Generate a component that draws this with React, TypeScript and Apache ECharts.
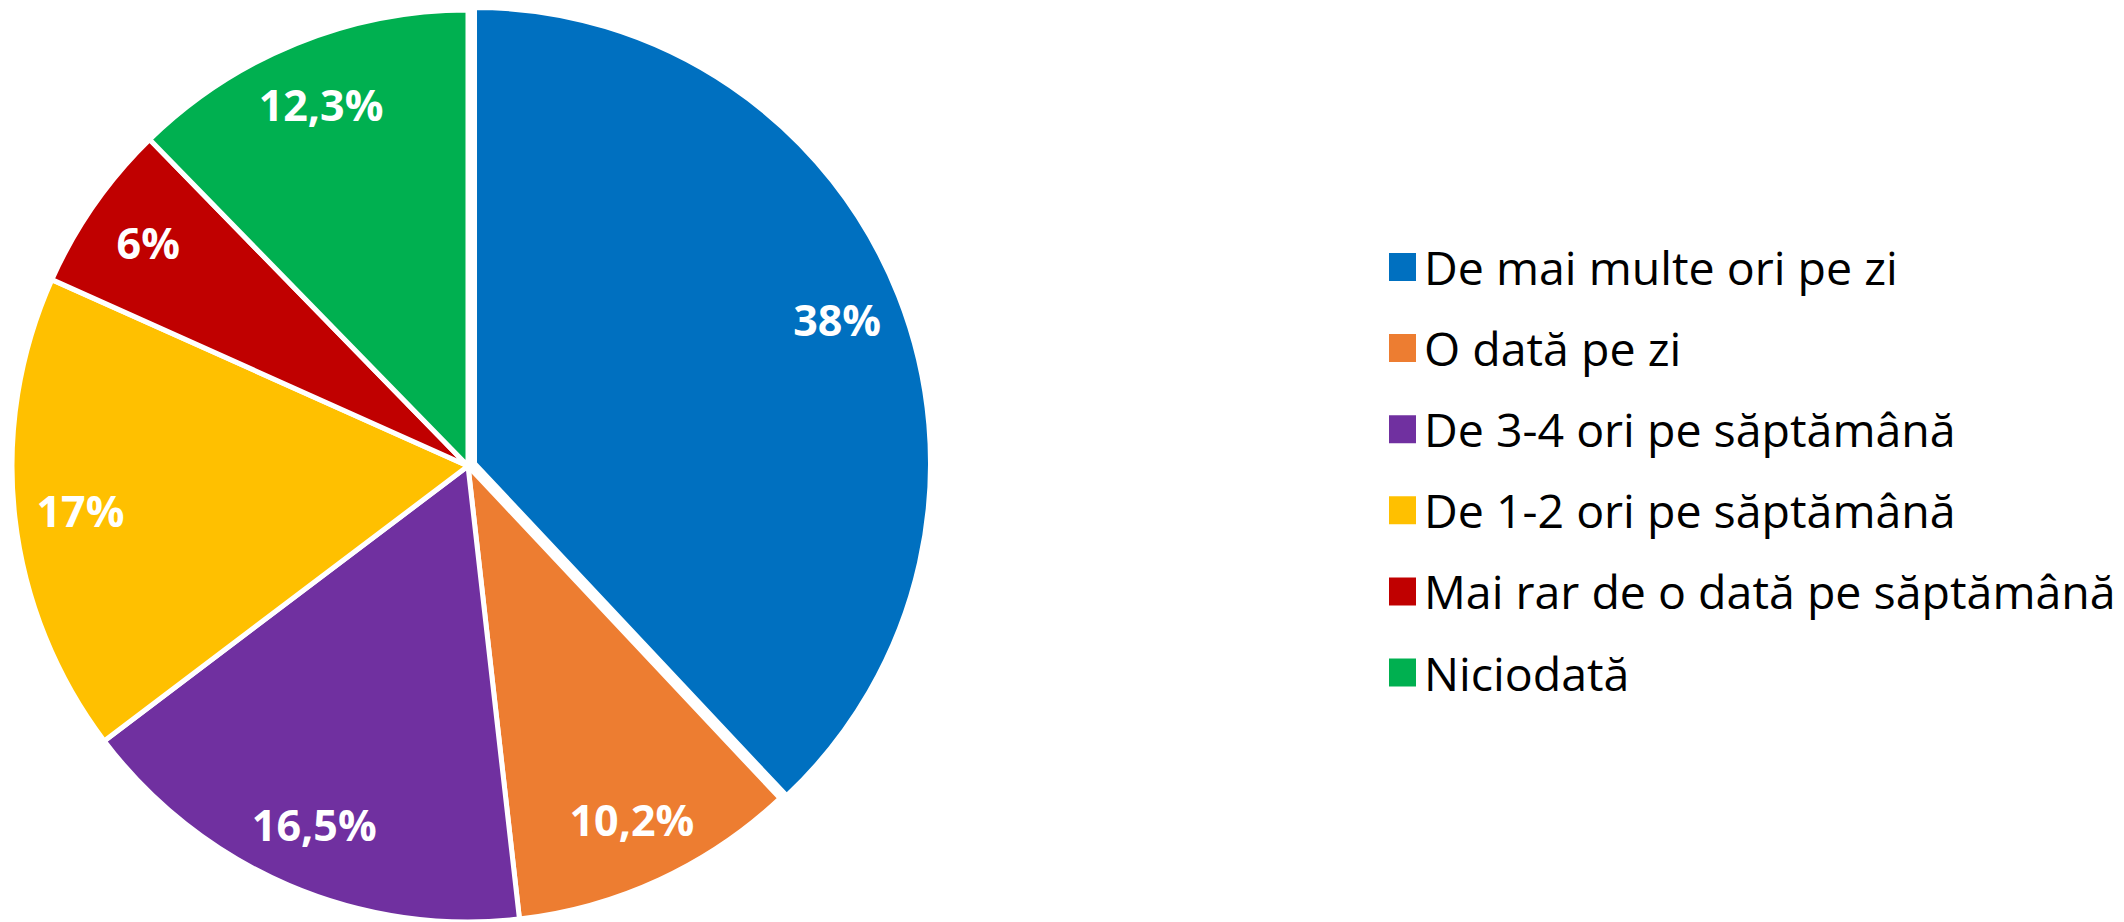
import React, { useEffect, useRef } from "react";
import * as echarts from "echarts";

const categories = [
  "De mai multe ori pe zi",
  "O dată pe zi",
  "De 3-4 ori pe săptămână",
  "De 1-2 ori pe săptămână",
  "Mai rar de o dată pe săptămână",
  "Niciodată",
];
const values = [38, 10.2, 16.5, 17, 6, 12.3];
const colors = ["#0070C0", "#ED7D31", "#7030A0", "#FFC000", "#C00000", "#00B050"];
const explodedIndex = 0;

const fmt = (v: number) => String(v).replace(".", ",") + "%";

export default function App() {
  const ref = useRef<HTMLDivElement>(null);
  useEffect(() => {
    const chart = echarts.init(ref.current!, null, { renderer: "svg" });
    const baseData = categories.map((name, i) => ({
      name,
      value: values[i],
      selected: i === explodedIndex,
      itemStyle: { color: colors[i] },
    }));
    const labelData = categories.map((name, i) => ({
      name,
      value: values[i],
      selected: i === explodedIndex,
    }));
    chart.setOption({
      animation: false,
      color: colors,
      legend: {
        orient: "vertical",
        left: 1382,
        top: 238.5,
        padding: 5,
        icon: "rect",
        itemWidth: 29,
        itemHeight: 30,
        itemGap: 34.1,
        selectedMode: false,
        data: categories,
        textStyle: {
          fontFamily: "Open Sans",
          fontSize: 46.5,
          color: "#000",
          padding: [0, 0, 0, 2],
        },
      },
      series: [
        {
          type: "pie",
          center: [468, 466],
          radius: [0, 456],
          startAngle: 90,
          clockwise: true,
          selectedMode: "single",
          selectedOffset: 7,
          silent: true,
          data: baseData,
          label: { show: false },
          labelLine: { show: false },
          itemStyle: { borderColor: "#fff", borderWidth: 5 },
          select: { itemStyle: { borderColor: "#fff", borderWidth: 5 } },
          emphasis: { disabled: true },
        },
        {
          type: "pie",
          center: [468, 466],
          radius: [318, 456],
          startAngle: 90,
          clockwise: true,
          selectedMode: "single",
          selectedOffset: 7,
          silent: true,
          legendHoverLink: false,
          data: labelData,
          itemStyle: { color: "rgba(0,0,0,0)", borderWidth: 0 },
          select: { itemStyle: { color: "rgba(0,0,0,0)", borderWidth: 0 } },
          emphasis: { disabled: true },
          labelLine: { show: false },
          label: {
            show: true,
            position: "inside",
            formatter: (p: any) => fmt(p.value),
            color: "#fff",
            fontWeight: "bold",
            fontSize: 43,
            fontFamily: "Open Sans",
          },
        },
      ],
    });
    return () => chart.dispose();
  }, []);
  return (
    <div
      ref={ref}
      style={{ position: "fixed", left: 0, top: 0, width: 2124, height: 922, background: "#fff" }}
    />
  );
}
